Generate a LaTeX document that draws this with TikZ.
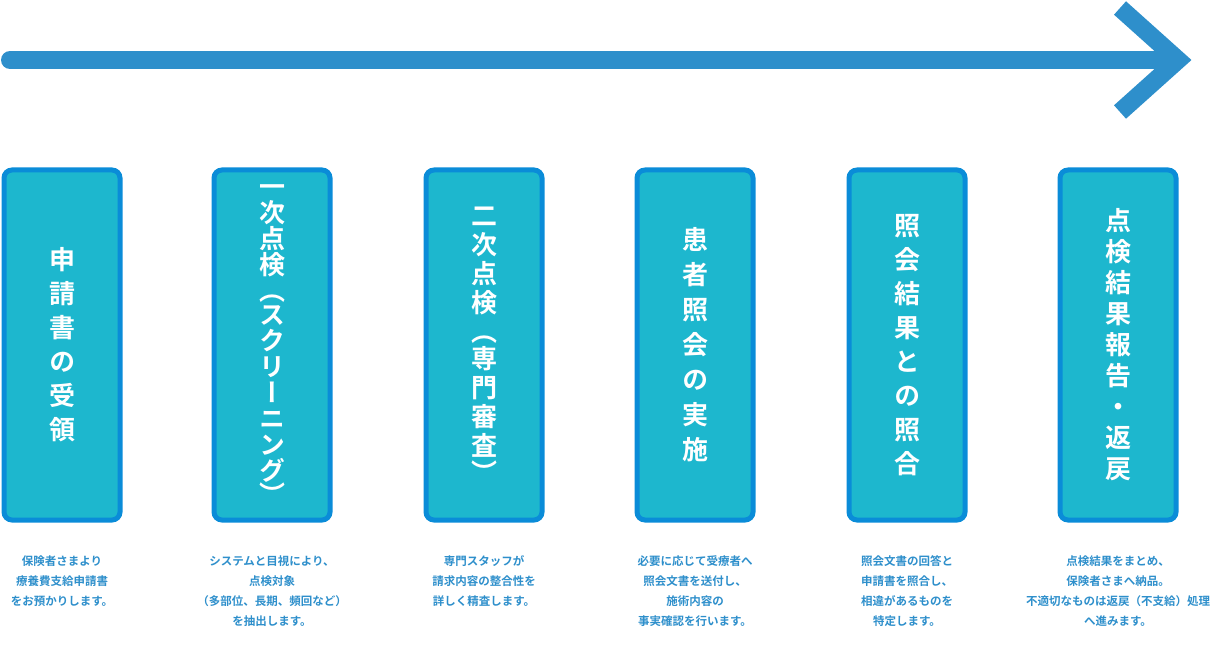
\documentclass[tikz,border=0pt]{standalone}
\usepackage{fontspec}
\newfontfamily\jpbold[RawFeature=+vert]{Noto Sans CJK JP Bold}
\newfontfamily\jpnote{Noto Sans CJK JP Bold}
\definecolor{arrowblue}{HTML}{2E8FCB}
\definecolor{boxedge}{HTML}{0A8CD8}
\definecolor{boxfill}{HTML}{1DB7CE}
\tikzset{
    stagebox/.style={draw=boxedge,line width=5pt,fill=boxfill,rounded corners=8pt,
        minimum width=116pt,minimum height=350pt},
    stagetext/.style={text=white,align=center},
    notetext/.style={text=arrowblue,font=\jpnote\fontsize{11.5}{20}\selectfont,align=center,anchor=north}
}
\begin{document}
\begin{tikzpicture}[x=1pt,y=-1pt]
    \useasboundingbox (0,0) rectangle (1223,647);

    % Dessine la flèche
    \draw[arrowblue,line width=18pt,line cap=round] (10,60) -- (1172,60);
    \draw[arrowblue,line width=18pt] (1120,8) -- (1178,60) -- (1120,112);

    % Dessine les étapes
    \foreach \n/\cx/\sk/\txt/\note in {
        1/62/34/{申\\請\\書\\の\\受\\領}/{保険者さまより\\療養費支給申請書\\をお預かりします。},
        2/272/26/{一\\次\\点\\検\\（\\[-2pt]ス\\ク\\リ\\ー\\ニ\\ン\\グ\\[-2pt]）}/{システムと目視により、\\点検対象\\（多部位、長期、頻回など）\\を抽出します。},
        3/484/29/{二\\次\\点\\検\\（\\[-2pt]専\\門\\審\\査\\[-2pt]）}/{専門スタッフが\\請求内容の整合性を\\詳しく精査します。},
        4/695/35/{患\\者\\照\\会\\の\\実\\施}/{必要に応じて受療者へ\\照会文書を送付し、\\施術内容の\\事実確認を行います。},
        5/907/34/{照\\会\\結\\果\\と\\の\\照\\合}/{照会文書の回答と\\申請書を照合し、\\相違があるものを\\特定します。},
        6/1118/31/{点\\検\\結\\果\\報\\告\\・\\返\\戻}/{点検結果をまとめ、\\保険者さまへ納品。\\不適切なものは返戻（不支給）処理\\へ進みます。}}
    {
        \node[stagebox] (box\n) at (\cx,345) {};
        \node[stagetext,font=\jpbold\fontsize{26}{\sk}\selectfont] (label\n) at (box\n.center) {\txt};
        \node[notetext] (note\n) at (\cx,552) {\note};
    }
\end{tikzpicture}
\end{document}
